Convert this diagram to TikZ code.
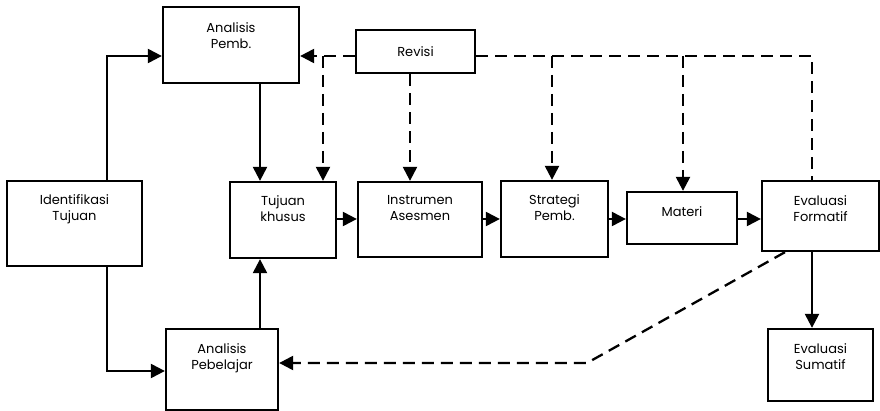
\documentclass[tikz,border=0pt]{standalone}
\usepackage{fontspec}
\setmainfont{Poppins}
\usetikzlibrary{arrows.meta}

\begin{document}
\begin{tikzpicture}[x=1pt,y=-1pt,
  line width=2.3pt,
  box/.style={draw, rectangle, inner sep=0pt, minimum width=#1},
  boxtext/.style={font=\fontsize{13}{16.5}\selectfont, align=center},
  arr/.style={-{Triangle[length=14pt,width=14pt]}},
  dsh/.style={dash pattern=on 12pt off 7pt},
]
\useasboundingbox (0,0) rectangle (880,411);

% process boxes; text sits near the top edge
\newcommand{\stagebox}[7]{%
  \node[box=#4, minimum height=#5] (#1) at (#2,#3) {};
  \node[boxtext, anchor=north] (#1t) at ([yshift=#6]#1.north) {#7};
}
\stagebox{ap}{231}{45}{136}{76}{-12pt}{Analisis\\Pemb.}
\stagebox{idt}{74.5}{223.5}{135}{85}{-10pt}{Identifikasi\\Tujuan}
\stagebox{tk}{283}{220}{106}{76}{-10pt}{Tujuan\\khusus}
\stagebox{ins}{420}{219.5}{124}{75}{-10pt}{Instrumen\\Asesmen}
\stagebox{str}{554.5}{219}{107}{76}{-10pt}{Strategi\\Pemb.}
\stagebox{mat}{682}{218}{110}{52}{-11pt}{Materi}
\stagebox{ef}{820.5}{216}{117}{70}{-11pt}{Evaluasi\\Formatif}
\stagebox{es}{820.5}{365}{105}{72}{-11pt}{Evaluasi\\Sumatif}
\stagebox{apb}{222}{369.5}{112}{81}{-11pt}{Analisis\\Pebelajar}
\node[box=119, minimum height=43, boxtext] (rev) at (415.5,51.5) {Revisi};

% routing points
\coordinate (tl) at (107,56);
\coordinate (bl) at (107,371);
\coordinate (cx) at (260,0);
\coordinate (hr) at (0,219);
\coordinate (d1) at (323,56);
\coordinate (d2) at (410,56);
\coordinate (d3) at (552,56);
\coordinate (d4) at (683,56);
\coordinate (d5) at (812,56);
\coordinate (k1) at (785,0);
\coordinate (k2) at (587,363);

% main flow
\draw[arr] (idt.north -| tl) |- (ap.west |- tl);
\draw[arr] (idt.south -| bl) |- (apb.west |- bl);
\draw[arr] (ap.south -| cx) -- (tk.north -| cx);
\draw[arr] (apb.north -| cx) -- (tk.south -| cx);
\draw[arr] (tk.east |- hr) -- (ins.west |- hr);
\draw[arr] (ins.east |- hr) -- (str.west |- hr);
\draw[arr] (str.east |- hr) -- (mat.west |- hr);
\draw[arr] (mat.east |- hr) -- (ef.west |- hr);
\draw[arr] (ef.south -| d5) -- (es.north -| d5);

% revision feedback
\draw[dsh,arr] (rev.west |- tl) -- (ap.east |- tl);
\draw[dsh,arr] (d1) -- (tk.north -| d1);
\draw[dsh,arr] (rev.south -| d2) -- (ins.north -| d2);
\draw[dsh] (rev.east |- d5) -| (ef.north -| d5);
\draw[dsh,arr] (d3) -- (str.north -| d3);
\draw[dsh,arr] (d4) -- (mat.north -| d4);
\draw[dsh,arr] (ef.south -| k1) -- (k2) -- (apb.east |- k2);
\end{tikzpicture}
\end{document}
